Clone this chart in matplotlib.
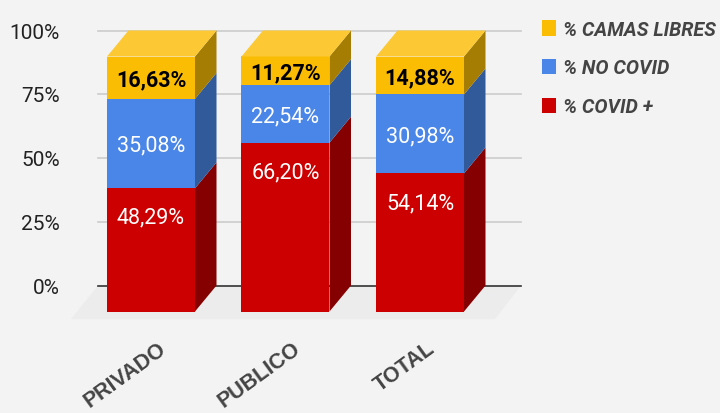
import matplotlib
matplotlib.use("Agg")
import matplotlib.pyplot as plt
from matplotlib.patches import Polygon, Patch

categories = ["PRIVADO", "PUBLICO", "TOTAL"]
covid = [48.29, 66.20, 54.14]
no_covid = [35.08, 22.54, 30.98]
libres = [16.63, 11.27, 14.88]
y_ticks = [0, 25, 50, 75, 100]
names = ["% COVID +", "% NO COVID", "% CAMAS LIBRES"]

front = ["#cc0000", "#4a86e8", "#fbbc04"]
side = ["#850000", "#315a9b", "#a67d03"]
top_col = "#fcc934"
text_col = ["white", "white", "black"]

plt.rcParams['font.family'] = ['Roboto', 'DejaVu Sans']

W, H = 720, 414
fig = plt.figure(figsize=(W / 100, H / 100), dpi=100, facecolor="#f3f3f3")
ax = fig.add_axes([0, 0, 1, 1])
ax.axis("off")

# one category = 134.5 px, one percent = 2.55 px
x0, xs = 151, 134.5
y0, ys = 312.5, 2.55
ax.set_xlim(-x0 / xs, (W - x0) / xs)
ax.set_ylim((y0 - H) / ys, y0 / ys)

width = 88 / xs
dx = 21.5 / xs
dy = 26 / ys

# floor
fl = [(-53 / xs, dy), (370 / xs, dy), (344 / xs, -3), (-80 / xs, -3)]
ax.add_patch(Polygon(fl, closed=True, fc="#ececec", ec="none", zorder=1))

# gridlines on the back wall
for t in y_ticks:
    col = "#333333" if t == 0 else "#cccccc"
    ax.plot([-53 / xs, 370 / xs], [t + dy, t + dy], color=col, lw=1.2, zorder=2)
    ax.text(-91 / xs, t + dy - 0.6, f"{t}%", ha="right", va="center",
            fontsize=15, color="#222222", zorder=5)

series = [covid, no_covid, libres]
for i in range(3):
    left = i - width / 2
    right = i + width / 2
    bottom = 0
    for s in range(3):
        v = series[s][i]
        t = bottom + v
        ax.add_patch(Polygon([(right, bottom), (right + dx, bottom + dy),
                              (right + dx, t + dy), (right, t)],
                             closed=True, fc=side[s], ec="none", zorder=3))
        ax.bar(i, v, width=width, bottom=bottom, color=front[s], zorder=4)
        if s == 0:
            ly = t - 11.4
        else:
            ly = bottom + v / 2 - 0.6
        ax.text(i, ly, f"{v:.2f}".replace(".", ",") + "%", ha="center", va="center",
                color=text_col[s], fontsize=15.5,
                fontweight="bold" if s == 2 else "normal", zorder=6)
        bottom = t
    ax.add_patch(Polygon([(left, 100), (right, 100), (right + dx, 100 + dy), (left + dx, 100 + dy)],
                         closed=True, fc=top_col, ec="none", zorder=4))
    ax.text(i + 7 / xs, -10.2, categories[i], rotation=36, rotation_mode="anchor",
            ha="right", va="top", family=["Liberation Sans", "DejaVu Sans"],
            fontweight="bold", fontsize=15.5, color="#444444")

handles = [Patch(fc=front[s], label=names[s]) for s in [2, 1, 0]]
fig.legend(handles=handles, loc="upper left", bbox_to_anchor=(536 / W, 1 - 15 / H),
           frameon=False, ncol=1, handlelength=0.7, handleheight=0.82, handletextpad=0.38,
           labelspacing=1.0, borderpad=0.3, borderaxespad=0,
           labelcolor="#444444",
           prop={"family": "Roboto", "weight": "bold", "style": "italic", "size": 14.1})

fig.savefig("out.png", dpi=100, facecolor=fig.get_facecolor())
